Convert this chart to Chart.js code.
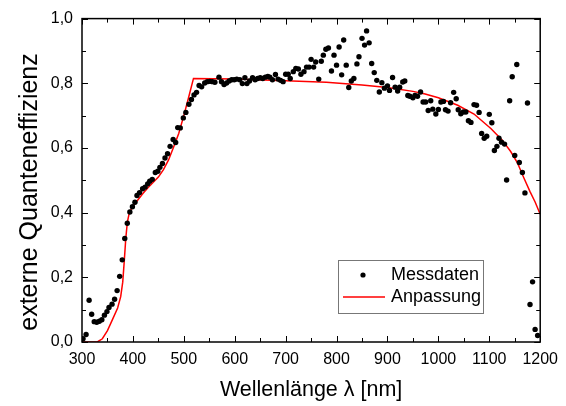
<!DOCTYPE html>
<html>
<head>
<meta charset="utf-8">
<script src="https://cdn.jsdelivr.net/npm/chart.js@4"></script>
<style>
	html, body { margin: 0; padding: 0; background: #fff; }
	#wrap { width: 566px; height: 406px; }
</style>
</head>
<body>
<div id="wrap"><canvas id="qeChart"></canvas></div>
<script>
// Messdaten (wavelength in nm, external quantum efficiency)
const messLambda = [
	302, 308, 314, 319, 324, 329, 334, 339, 344, 349, 353, 359, 364, 369, 374, 379, 384, 389, 394, 399,
	404, 408, 413, 419, 424, 429, 433, 438, 444, 449, 453, 458, 463, 468, 473, 479, 484, 488, 493, 499,
	504, 510, 515, 520, 525, 530, 535, 541, 546, 551, 556, 561, 569, 574, 579, 584, 589, 594, 599, 604,
	610, 615, 620, 624, 629, 635, 640, 645, 650, 655, 660, 665, 669, 674, 680, 685, 690, 695, 700, 705,
	709, 715, 720, 725, 730, 736, 741, 746, 750, 755, 759, 765, 770, 774, 779, 784, 790, 795, 800, 805,
	810, 814, 819, 824, 829, 834, 840, 844, 850, 855, 859, 864, 869, 874, 879, 884, 889, 894, 900, 904,
	910, 915, 920, 924, 930, 934, 940, 944, 950, 954, 959, 965, 970, 975, 980, 985, 989, 995, 1000, 1005,
	1010, 1014, 1019, 1024, 1030, 1035, 1039, 1044, 1049, 1054, 1059, 1064, 1070, 1075, 1080, 1085, 1090, 1095, 1100, 1105,
	1110, 1115, 1119, 1124, 1130, 1134, 1140, 1145, 1150, 1154, 1159, 1165, 1170, 1175, 1180, 1185, 1190, 1195
];
const messEQE = [
	0.010, 0.023, 0.129, 0.086, 0.063, 0.061, 0.064, 0.069, 0.083, 0.094, 0.107, 0.117, 0.132, 0.159, 0.203, 0.254, 0.320, 0.367, 0.402, 0.418,
	0.432, 0.453, 0.462, 0.474, 0.479, 0.489, 0.497, 0.503, 0.524, 0.528, 0.540, 0.552, 0.569, 0.582, 0.605, 0.626, 0.617, 0.663, 0.662, 0.693,
	0.710, 0.735, 0.750, 0.764, 0.772, 0.793, 0.789, 0.801, 0.805, 0.806, 0.805, 0.803, 0.819, 0.805, 0.796, 0.801, 0.807, 0.811, 0.811, 0.813,
	0.811, 0.799, 0.817, 0.799, 0.807, 0.817, 0.811, 0.815, 0.817, 0.815, 0.819, 0.821, 0.819, 0.811, 0.827, 0.813, 0.809, 0.805, 0.828, 0.828,
	0.815, 0.836, 0.846, 0.844, 0.828, 0.836, 0.850, 0.850, 0.874, 0.850, 0.866, 0.813, 0.868, 0.887, 0.905, 0.909, 0.838, 0.887, 0.856, 0.912,
	0.826, 0.934, 0.856, 0.787, 0.807, 0.815, 0.860, 0.882, 0.939, 0.918, 0.962, 0.925, 0.861, 0.833, 0.809, 0.773, 0.802, 0.785, 0.792, 0.778,
	0.818, 0.788, 0.776, 0.788, 0.804, 0.807, 0.762, 0.760, 0.755, 0.762, 0.760, 0.773, 0.742, 0.742, 0.716, 0.746, 0.720, 0.705, 0.719, 0.742,
	0.744, 0.718, 0.714, 0.740, 0.772, 0.752, 0.718, 0.706, 0.711, 0.711, 0.684, 0.679, 0.734, 0.732, 0.710, 0.645, 0.630, 0.636, 0.704, 0.678,
	0.592, 0.605, 0.630, 0.618, 0.612, 0.501, 0.746, 0.820, 0.577, 0.858, 0.555, 0.524, 0.461, 0.739, 0.116, 0.186, 0.039, 0.020
];

// Anpassung (fit curve)
const fitLambda = [300, 330, 340, 350, 360, 370, 376, 380, 383, 386, 389, 393, 400, 410, 420, 430, 440, 450, 460, 470,
	480, 490, 500, 510, 519, 600, 700, 780, 850, 900, 950, 974, 1000, 1038, 1070, 1103, 1125, 1142, 1155, 1168, 1180, 1190, 1200];
const fitEQE = [0.0, 0.0, 0.01, 0.035, 0.07, 0.105, 0.14, 0.185, 0.25, 0.32, 0.37, 0.40, 0.42, 0.44, 0.46, 0.478, 0.494, 0.51, 0.533, 0.563,
	0.603, 0.645, 0.70, 0.76, 0.815, 0.813, 0.808, 0.803, 0.795, 0.787, 0.775, 0.767, 0.755, 0.732, 0.705, 0.660, 0.625, 0.589, 0.555, 0.507, 0.465, 0.433, 0.395];

const xTicks = [300, 400, 500, 600, 700, 800, 900, 1000, 1100, 1200];
const yTicks = [0, 0.2, 0.4, 0.6, 0.8, 1.0];
const yTitle = 'externe Quanteneffizienz';

const fontFam = '"Liberation Sans", Arial, sans-serif';

const toPts = (xs, ys) => xs.map((x, i) => ({ x: x, y: ys[i] }));

// frame with inward ticks on all four sides, y title and the legend box
const framePlugin = {
	id: 'frame',
	afterDraw(chart) {
		const { ctx, chartArea: a, scales } = chart;
		const xs = scales.x, ys = scales.y;
		ctx.save();
		ctx.strokeStyle = '#000';
		ctx.lineWidth = 1.5;
		ctx.strokeRect(a.left, a.top, a.right - a.left, a.bottom - a.top);
		ctx.lineWidth = 1;
		ctx.beginPath();
		for (let v = 300; v <= 1200; v += 50) {
			const px = Math.round(xs.getPixelForValue(v)) + 0.5;
			const len = v % 100 === 0 ? 6 : 4;
			ctx.moveTo(px, a.bottom); ctx.lineTo(px, a.bottom - len);
			ctx.moveTo(px, a.top); ctx.lineTo(px, a.top + len);
		}
		for (let k = 0; k <= 10; k++) {
			const py = Math.round(ys.getPixelForValue(k / 10)) + 0.5;
			const len = k % 2 === 0 ? 6 : 4;
			ctx.moveTo(a.left, py); ctx.lineTo(a.left + len, py);
			ctx.moveTo(a.right, py); ctx.lineTo(a.right - len, py);
		}
		ctx.stroke();

		// y axis title, sits a bit below the plot centre in the original
		ctx.save();
		ctx.translate(30, 192);
		ctx.rotate(-Math.PI / 2);
		ctx.fillStyle = '#000';
		ctx.font = '25px ' + fontFam;
		ctx.textAlign = 'center';
		ctx.textBaseline = 'middle';
		ctx.fillText(yTitle, 0, 0);
		ctx.restore();

		const ds = chart.data.datasets;
		const bx = 338, by = 260, bw = 145, bh = 53;
		ctx.lineWidth = 1;
		ctx.strokeStyle = '#777';
		ctx.fillStyle = '#fff';
		ctx.fillRect(bx, by, bw, bh);
		ctx.strokeRect(bx + 0.5, by + 0.5, bw, bh);
		ctx.fillStyle = ds[0].backgroundColor;
		ctx.beginPath();
		ctx.arc(363, 275, 2.6, 0, Math.PI * 2);
		ctx.fill();
		ctx.strokeStyle = ds[1].borderColor;
		ctx.lineWidth = ds[1].borderWidth;
		ctx.beginPath();
		ctx.moveTo(343, 297); ctx.lineTo(385, 297);
		ctx.stroke();
		ctx.fillStyle = '#000';
		ctx.font = '18px ' + fontFam;
		ctx.textBaseline = 'middle';
		ctx.fillText(ds[0].label, 391, 275);
		ctx.fillText(ds[1].label, 391, 297);
		ctx.restore();
	}
};

new Chart(document.getElementById('qeChart'), {
	type: 'scatter',
	data: {
		datasets: [
			{
				label: 'Messdaten',
				data: toPts(messLambda, messEQE),
				backgroundColor: '#000',
				borderColor: '#000',
				pointRadius: 2.7,
				pointBorderWidth: 0,
				order: 0
			},
			{
				label: 'Anpassung',
				data: toPts(fitLambda, fitEQE),
				showLine: true,
				borderColor: '#ff0000',
				backgroundColor: '#ff0000',
				borderWidth: 1.5,
				pointRadius: 0,
				tension: 0,
				order: 1
			}
		]
	},
	options: {
		responsive: true,
		maintainAspectRatio: false,
		animation: false,
		events: [],
		layout: { padding: { left: 0, right: 20, top: 16, bottom: 0 } },
		plugins: { legend: { display: false }, tooltip: { enabled: false } },
		scales: {
			x: {
				type: 'linear',
				min: 300, max: 1200,
				grid: { display: false, drawTicks: false },
				border: { display: false },
				afterBuildTicks: (s) => { s.ticks = xTicks.map(v => ({ value: v })); },
				afterFit: (s) => { s.height = 64; },
				ticks: {
					color: '#000', padding: 8, maxRotation: 0, font: { family: fontFam, size: 16 },
					callback: (v) => String(v)
				},
				title: { display: true, text: 'Wellenlänge λ [nm]', color: '#000', padding: { top: 0, bottom: 3 }, font: { family: fontFam, size: 21.5 } }
			},
			y: {
				type: 'linear',
				min: 0, max: 1,
				grid: { display: false, drawTicks: false },
				border: { display: false },
				afterBuildTicks: (s) => { s.ticks = yTicks.map(v => ({ value: v })); },
				afterFit: (s) => { s.width = 82; },
				ticks: {
					color: '#000', padding: 9, font: { family: fontFam, size: 16 },
					callback: (v) => v.toFixed(1).replace('.', ',')
				},
				title: { display: false }
			}
		}
	},
	plugins: [framePlugin]
});
</script>
</body>
</html>
